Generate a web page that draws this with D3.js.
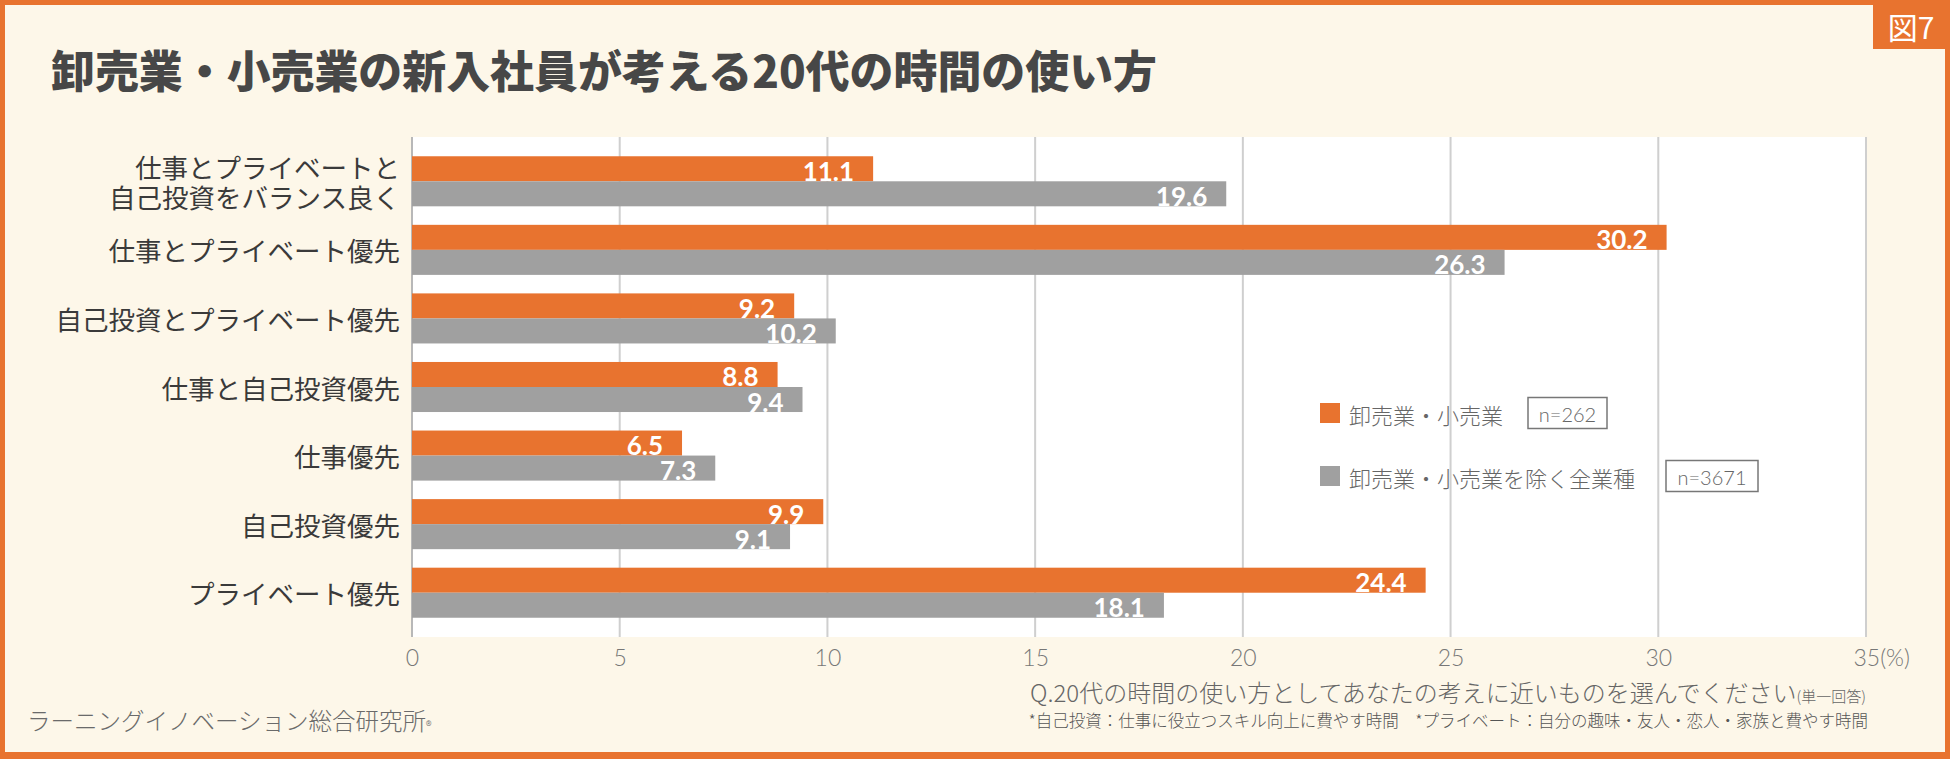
<!DOCTYPE html>
<html>
<head>
<meta charset="utf-8">
<script src="https://cdn.jsdelivr.net/npm/d3@7"></script>
<style>
  body { margin: 0; background: #fff; }
  svg { display: block; }
</style>
</head>
<body>
<svg></svg>
<script>
const categories = [
    ["仕事とプライベートと", "自己投資をバランス良く"],
    ["仕事とプライベート優先"],
    ["自己投資とプライベート優先"],
    ["仕事と自己投資優先"],
    ["仕事優先"],
    ["自己投資優先"],
    ["プライベート優先"]
];
const retail = [11.1, 30.2, 9.2, 8.8, 6.5, 9.9, 24.4];
const others = [19.6, 26.3, 10.2, 9.4, 7.3, 9.1, 18.1];
const xTicks = [0, 5, 10, 15, 20, 25, 30, 35];
const seriesNames = ["卸売業・小売業", "卸売業・小売業を除く全業種"];
const seriesN = ["n=262", "n=3671"];

const W = 1950, H = 759;
const orange = "#e8732f", gray = "#a0a0a0";
const jp = "'Noto Sans CJK JP', 'Noto Sans', sans-serif";

const svg = d3.select("svg")
    .attr("width", W)
    .attr("height", H);

// frame
svg.append("rect").attr("width", W).attr("height", H).attr("fill", orange);
svg.append("rect")
    .attr("x", 5).attr("y", 5)
    .attr("width", W - 10).attr("height", H - 12)
    .attr("fill", "#fdf7e9");

// figure tag
svg.append("rect")
    .attr("x", 1873).attr("y", 0)
    .attr("width", W - 1873).attr("height", 49)
    .attr("fill", orange);
svg.append("text")
    .attr("x", 1911).attr("y", 26)
    .attr("text-anchor", "middle")
    .attr("dominant-baseline", "central")
    .attr("fill", "#fff")
    .attr("font-family", jp)
    .attr("font-size", 30)
    .text("図7");

// title
svg.append("text")
    .attr("x", 51).attr("y", 88)
    .attr("fill", "#474747")
    .attr("font-family", jp)
    .attr("font-weight", 900)
    .attr("font-size", 44)
    .attr("textLength", 1106)
    .attr("lengthAdjust", "spacingAndGlyphs")
    .text("卸売業・小売業の新入社員が考える20代の時間の使い方");

// scales
const plotTop = 137, plotBottom = 637;
const x = d3.scaleLinear().domain([0, 35]).range([412, 1866]);
const y = d3.scaleBand()
    .domain(d3.range(categories.length))
    .range([plotTop + 10, plotBottom - 10])
    .paddingInner(0.27)
    .paddingOuter(0.135);
const barH = y.bandwidth() / 2;

svg.append("rect")
    .attr("x", x(0)).attr("y", plotTop)
    .attr("width", x(35) - x(0)).attr("height", plotBottom - plotTop)
    .attr("fill", "#fff");

// grid
svg.append("g")
    .selectAll("line")
    .data(xTicks)
    .enter().append("line")
    .attr("x1", d => x(d)).attr("x2", d => x(d))
    .attr("y1", plotTop).attr("y2", plotBottom)
    .attr("stroke", d => d === 0 ? "#b8b8b8" : "#cfcfcf")
    .attr("stroke-width", 2);

// x axis labels
const xAxis = svg.append("g")
    .attr("transform", `translate(0,${plotBottom})`)
    .call(d3.axisBottom(x).tickValues(xTicks).tickSize(0).tickPadding(13)
        .tickFormat(d => d === 35 ? "35(%)" : d));
xAxis.select(".domain").remove();
xAxis.selectAll("text")
    .attr("fill", "#777")
    .attr("font-family", "Lato, sans-serif")
    .attr("font-weight", 300)
    .attr("font-size", 23)
    .attr("dy", "0.71em")
    .attr("text-anchor", d => d === 35 ? "start" : "middle")
    .attr("dx", d => d === 35 ? -13 : 0);

// bars
const rows = categories.map((c, i) => ({ i, a: retail[i], b: others[i] }));

const group = svg.append("g")
    .selectAll("g")
    .data(rows)
    .enter().append("g")
    .attr("transform", d => `translate(0,${y(d.i)})`);

group.append("rect")
    .attr("x", x(0)).attr("y", 0)
    .attr("width", d => x(d.a) - x(0)).attr("height", barH)
    .attr("fill", orange);

group.append("rect")
    .attr("x", x(0)).attr("y", barH)
    .attr("width", d => x(d.b) - x(0)).attr("height", barH)
    .attr("fill", gray);

const valueText = (sel, key, offset) => sel.append("text")
    .attr("x", d => x(d[key]) - 19)
    .attr("y", offset + barH / 2 + 2)
    .attr("text-anchor", "end")
    .attr("dominant-baseline", "central")
    .attr("fill", "#fff")
    .attr("font-family", "Lato, sans-serif")
    .attr("font-weight", 700)
    .attr("font-size", 26)
    .text(d => d3.format(".1f")(d[key]));

valueText(group, "a", 0);
valueText(group, "b", barH);

// category labels
const labels = svg.append("g")
    .selectAll("text")
    .data(categories)
    .enter().append("text")
    .attr("text-anchor", "end")
    .attr("fill", "#3a3a3a")
    .attr("font-family", jp)
    .attr("font-size", 26.5);

labels.selectAll("tspan")
    .data((d, i) => d.map((line, j) => ({ line, j, n: d.length, i })))
    .enter().append("tspan")
    .attr("x", 400)
    .attr("y", d => y(d.i) + y.bandwidth() / 2 + (d.j - (d.n - 1) / 2) * 30)
    .attr("dominant-baseline", "central")
    .text(d => d.line);

// legend
const legendY = [413, 476];
const legendBox = [[1528, 79], [1666, 92]];
const legend = svg.append("g")
    .selectAll("g")
    .data(seriesNames)
    .enter().append("g")
    .attr("transform", (d, i) => `translate(0,${legendY[i]})`);

legend.append("rect")
    .attr("x", 1320).attr("y", -10)
    .attr("width", 20).attr("height", 20)
    .attr("fill", (d, i) => i === 0 ? orange : gray);

legend.append("text")
    .attr("x", 1349).attr("y", 1)
    .attr("dominant-baseline", "central")
    .attr("fill", "#666")
    .attr("font-family", jp)
    .attr("font-weight", 300)
    .attr("font-size", 22)
    .text(d => d);

legend.append("rect")
    .attr("x", (d, i) => legendBox[i][0]).attr("y", -15.5)
    .attr("width", (d, i) => legendBox[i][1]).attr("height", 31)
    .attr("fill", "none")
    .attr("stroke", "#777")
    .attr("stroke-width", 1.5);

legend.append("text")
    .attr("x", (d, i) => legendBox[i][0] + legendBox[i][1] / 2)
    .attr("y", 1)
    .attr("text-anchor", "middle")
    .attr("dominant-baseline", "central")
    .attr("fill", "#666")
    .attr("font-family", "Lato, sans-serif")
    .attr("font-weight", 300)
    .attr("font-size", 20)
    .text((d, i) => seriesN[i]);

// question and notes
const q = svg.append("text")
    .attr("x", 1866).attr("y", 702)
    .attr("text-anchor", "end")
    .attr("fill", "#666")
    .attr("font-family", jp)
    .attr("font-weight", 300)
    .attr("font-size", 24);
q.append("tspan").text("Q.20代の時間の使い方としてあなたの考えに近いものを選んでください");
q.append("tspan").attr("font-size", 15).text("(単一回答)");

svg.append("text")
    .attr("x", 1868).attr("y", 727)
    .attr("text-anchor", "end")
    .attr("fill", "#555")
    .attr("font-family", jp)
    .attr("font-weight", 300)
    .attr("font-size", 16.5)
    .text("*自己投資：仕事に役立つスキル向上に費やす時間　*プライベート：自分の趣味・友人・恋人・家族と費やす時間");

const credit = svg.append("text")
    .attr("x", 27).attr("y", 730)
    .attr("fill", "#6a6a6a")
    .attr("font-family", jp)
    .attr("font-weight", 300)
    .attr("font-size", 23.5);
credit.append("tspan").text("ラーニングイノベーション総合研究所");
credit.append("tspan").attr("font-size", 12).text("®");
</script>
</body>
</html>
